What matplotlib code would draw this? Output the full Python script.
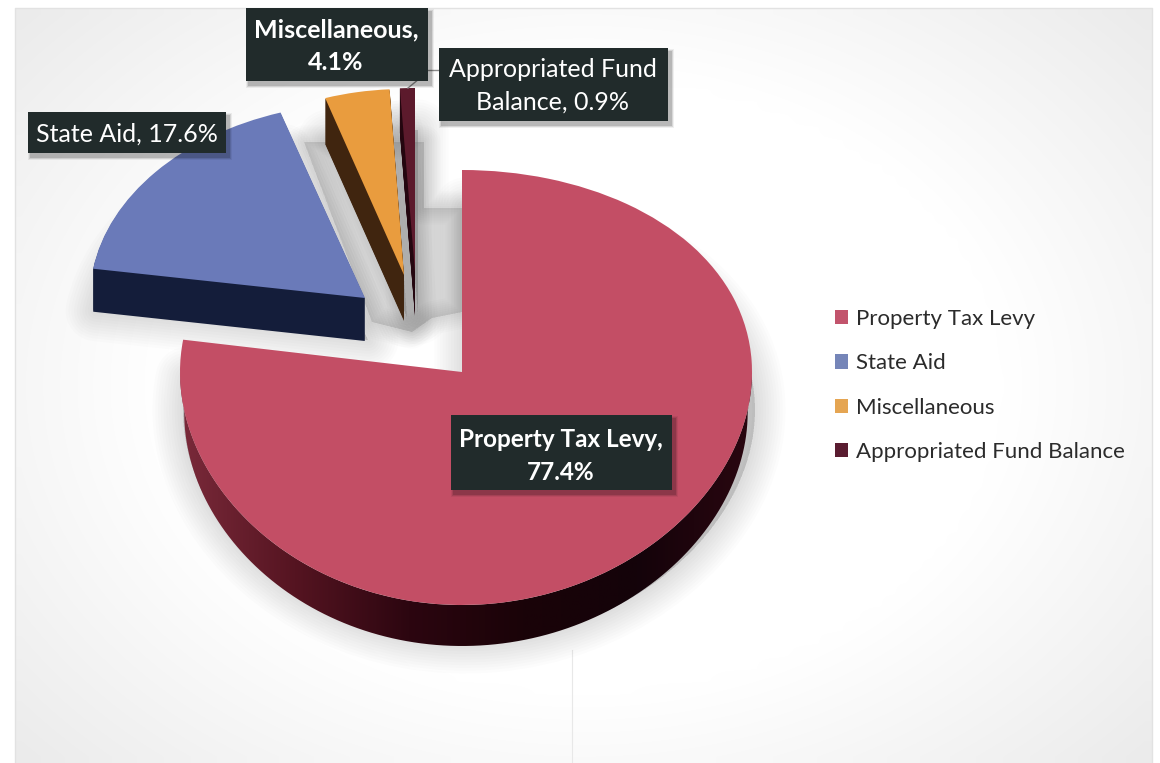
"""Exploded 3-D style revenue pie with boxed data labels."""

import matplotlib

matplotlib.use("Agg")

import matplotlib.pyplot as plt
import numpy as np
from matplotlib.colors import LinearSegmentedColormap
from matplotlib.patches import PathPatch, Patch, Polygon, Rectangle
from matplotlib.path import Path

plt.rcParams["font.family"] = ["Lato", "DejaVu Sans"]

WIDTH, HEIGHT = 1160, 763

# data
categories = ["Property Tax Levy", "State Aid", "Miscellaneous", "Appropriated Fund Balance"]
shares = [77.4, 17.6, 4.1, 0.9]
label_lines = [
    "Property Tax Levy,\n77.4%",
    "State Aid, 17.6%",
    "Miscellaneous,\n4.1%",
    "Appropriated Fund\nBalance, 0.9%",
]

# styles
TOP_COLORS = ["#c34e65", "#6a7ab9", "#e99c3e", "#5c1a2c"]
WALL_COLORS = ["#3a0a15", "#141d3a", "#40250f", "#24060f"]
LEGEND_COLORS = ["#c2546c", "#7585b8", "#e5a552", "#5a1c30"]
BOX_COLOR = "#212b2b"

# slice geometry in picture pixels: apex x, apex y, rx right, rx left, ry above, ry below, depth
SLICE_GEOMETRY = [
    (462, 372, 290, 282, 202, 233, 41),
    (365, 298, 270, 275, 195, 195, 43),
    (404, 275, 255, 255, 186, 186, 46),
    (415, 272, 268, 268, 184, 184, 44),
]

# label box: x0, y0, x1, y1, text x, text y, font size, weight
LABEL_BOXES = [
    (451, 415, 672, 490, 561, 456, 17.5, "bold"),
    (28, 112, 226, 153, 127, 134, 18, "normal"),
    (246, 8, 428, 81, 336, 46, 18, "bold"),
    (439, 48, 668, 121, 553, 86, 18, "normal"),
]

# grey patch left by the thin slices between the small slices and the big one
GAP_SHADOW = [(304, 142), (424, 142), (424, 208), (462, 208), (462, 312), (432, 318), (412, 332), (372, 322)]


def warp(unit_x, unit_y, geometry):
    """Map unit circle coordinates to the tilted ellipse, with uneven halves for perspective."""
    x0, y0, rx_right, rx_left, ry_up, ry_down, _ = geometry
    xs = x0 + (rx_right + rx_left) / 2 * unit_x + (rx_right - rx_left) / 2 * unit_x ** 2
    ys = y0 - ((ry_up + ry_down) / 2 * unit_y + (ry_up - ry_down) / 2 * unit_y ** 2)
    return xs, ys


def slice_path(theta1, theta2, geometry, drop=0.0, shift_x=0.0):
    unit = Path.wedge(theta1, theta2)
    xs, ys = warp(unit.vertices[:, 0], unit.vertices[:, 1], geometry)
    return Path(np.column_stack([xs + shift_x, ys + drop]), unit.codes)


def draw_shadow(ax, path, zorder=2):
    """Soft drop shadow made of stacked strokes."""
    for lw in range(44, 0, -4):
        ax.add_patch(PathPatch(path, facecolor=(0, 0, 0, 0.012), edgecolor=(0, 0, 0, 0.012),
                               lw=lw, joinstyle="round", zorder=zorder))


def main():
    fig = plt.figure(figsize=(WIDTH / 100, HEIGHT / 100), dpi=100, facecolor="white")
    ax = fig.add_axes([0, 0, 1, 1])
    ax.axis("off")

    # paper background: white centre, greyer toward the corners
    yy, xx = np.mgrid[-1:1:60j, -1:1:90j]
    vignette = np.clip(np.hypot(xx, yy * 0.9) - 0.75, 0, 1)
    bg_cmap = LinearSegmentedColormap.from_list("bg", ["#ffffff", "#ebebeb"])
    ax.imshow(vignette, extent=(15, 1152, 763, 8), cmap=bg_cmap, vmin=0, vmax=0.6,
              aspect="auto", interpolation="bilinear", zorder=0)
    ax.plot([15, 15, 1152, 1152], [763, 8, 8, 763], color="#e2e2e2", lw=1, zorder=1)
    ax.plot([572, 572], [650, 763], color="#e8e8e8", lw=0.8, zorder=1)

    cum = np.cumsum(shares)
    starts = 90 - 3.6 * np.concatenate([[0], cum[:-1]])
    ends = 90 - 3.6 * cum

    # shadows first so that they stay under every slice
    for i, geometry in enumerate(SLICE_GEOMETRY):
        draw_shadow(ax, slice_path(ends[i], starts[i], geometry, drop=38 + 4 * (i > 0), shift_x=3))
    for lw in range(24, 0, -3):
        ax.add_patch(Polygon(GAP_SHADOW, closed=True, facecolor=(0, 0, 0, 0.012), edgecolor=(0, 0, 0, 0.012),
                             lw=lw, joinstyle="round", zorder=2))

    # side walls and tops of the small slices
    for i in (1, 2, 3):
        geometry = SLICE_GEOMETRY[i]
        for d in range(geometry[-1], 0, -1):
            ax.add_patch(PathPatch(slice_path(ends[i], starts[i], geometry, drop=d),
                                   facecolor=WALL_COLORS[i], edgecolor="none", zorder=3 + i))
        ax.add_patch(PathPatch(slice_path(ends[i], starts[i], geometry),
                               facecolor=TOP_COLORS[i], edgecolor="none", zorder=3 + i))

    # big slice: rim shaded from left to right, lower edge pulled in a little
    geometry = SLICE_GEOMETRY[0]
    depth = geometry[-1]
    rim = np.radians(np.linspace(180, 360, 120))
    rim_x, rim_y = warp(np.cos(rim), np.sin(rim), geometry)
    low_x = geometry[0] + (rim_x - geometry[0]) * 0.985
    wall_path = Path(np.column_stack([np.r_[rim_x, low_x[::-1]], np.r_[rim_y, rim_y[::-1] + depth]]))
    wall_cmap = LinearSegmentedColormap.from_list(
        "wall", ["#7a2a3a", "#551421", "#2c0610", "#1a0308", "#14030a", "#2a0710"])
    wall = ax.imshow(np.linspace(0, 1, 256)[None, :], extent=(rim_x.min(), rim_x.max(), 660, 372), cmap=wall_cmap,
                     aspect="auto", zorder=7)
    wall.set_clip_path(wall_path, transform=ax.transData)
    ax.add_patch(PathPatch(slice_path(ends[0], starts[0], geometry),
                           facecolor=TOP_COLORS[0], edgecolor="none", zorder=8))

    # leader lines
    ax.plot([428, 439], [70, 70], color="#8a8a8a", lw=1, zorder=9)
    ax.plot([408, 419], [88, 79], color="#8a8a8a", lw=1, zorder=9)

    # data labels
    for text, (bx0, by0, bx1, by1, tx, ty, size, weight) in zip(label_lines, LABEL_BOXES):
        for grow, alpha in ((6, 0.06), (4, 0.1), (2, 0.14)):
            ax.add_patch(Rectangle((bx0 + 3 - grow / 2, by0 + 4 - grow / 2), bx1 - bx0 + grow, by1 - by0 + grow,
                                   facecolor=(0, 0, 0, alpha), edgecolor="none", zorder=10))
        ax.add_patch(Rectangle((bx0, by0), bx1 - bx0, by1 - by0, facecolor=BOX_COLOR, edgecolor="none", zorder=11))
        ax.text(tx, ty, text, color="white", fontsize=size, fontweight=weight, ha="center", va="center",
                linespacing=1.5, zorder=12)

    handles = [Patch(facecolor=c, edgecolor="none") for c in LEGEND_COLORS]
    ax.legend(handles, categories, loc="upper left", bbox_to_anchor=(826, 300), bbox_transform=ax.transData,
              frameon=False, fontsize=16, labelcolor="#2b2b2b", handlelength=0.6, handleheight=0.6,
              handletextpad=0.36, labelspacing=1.1, borderpad=0.4, borderaxespad=0)

    ax.set_xlim(0, WIDTH)
    ax.set_ylim(HEIGHT, 0)
    fig.savefig("out.png", dpi=100, facecolor="white")


if __name__ == "__main__":
    main()
